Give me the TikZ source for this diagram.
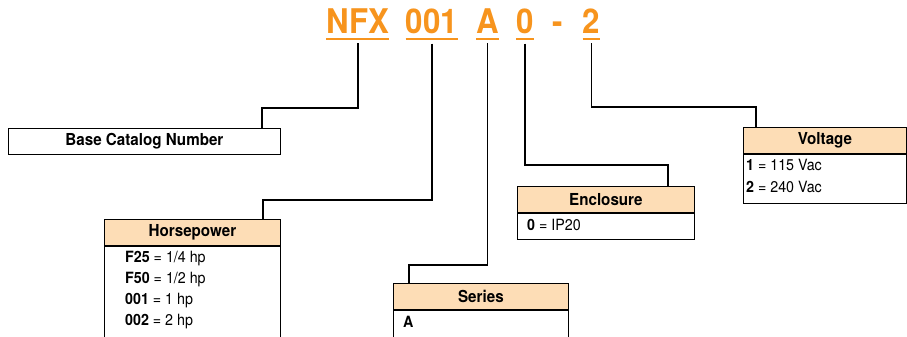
\documentclass[tikz,border=0pt]{standalone}
\usepackage{fontspec}
\setmainfont{TeX Gyre Heros}[FakeStretch=0.92]
\definecolor{org}{HTML}{F7941D}
\definecolor{peach}{HTML}{FDDDB6}
\begin{document}
\begin{tikzpicture}[x=1pt,y=-1pt,
  ttl/.style={font=\fontsize{34}{34}\selectfont\bfseries, text=org, inner sep=0pt, anchor=base},
  uline/.style={draw=org, line width=2.2pt},
  conn/.style={line width=1.6pt},
  hdr/.style={draw, line width=0.8pt, fill=peach, inner sep=0pt, anchor=north west, minimum height=26pt, font=\fontsize{16.5}{16.5}\selectfont\bfseries},
  bodybox/.style={draw, line width=0.8pt, inner sep=0pt, anchor=north west},
  row/.style={anchor=west, inner sep=0pt, font=\fontsize{15.5}{15.5}\selectfont}
]
\clip (0,0) rectangle (907,337);
\fill[white] (0,0) rectangle (907,337);

% title
\node[ttl] (t1) at (357.7,34) {NFX};
\node[ttl] (t2) at (432,34) {001};
\node[ttl] (t3) at (487.5,34) {A};
\node[ttl] (t4) at (525,34) {0};
\node[ttl] (t5m) at (558,34) {-};
\node[ttl] (t5) at (591.5,34) {2};
\foreach \t in {t1,t2,t3,t4,t5}
  \draw[uline] ([yshift=-5pt]\t.base west) -- ([yshift=-5pt]\t.base east);

% Base catalog number
\node[hdr, fill=white, minimum width=272pt] (bc) at (8,128) {Base Catalog Number};

% Horsepower
\node[hdr, minimum width=176pt] (hp) at (104,219) {Horsepower};
\node[bodybox, minimum width=176pt, minimum height=110pt] (hpb) at (hp.south west) {};
\node[row] (hp1) at (125,259) {\textbf{F25} = 1/4 hp};
\node[row] (hp2) at (125,280) {\textbf{F50} = 1/2 hp};
\node[row] (hp3) at (125,301) {\textbf{001} = 1 hp};
\node[row] (hp4) at (125,322) {\textbf{002} = 2 hp};

% Series
\node[hdr, minimum width=175pt] (se) at (393,283) {Series};
\node[bodybox, minimum width=175pt, minimum height=60pt] (seb) at (se.south west) {};
\node[row] (se1) at (403,322) {\textbf{A}};

% Enclosure
\node[hdr, minimum width=177pt] (en) at (517,186) {Enclosure};
\node[bodybox, minimum width=177pt, minimum height=26pt] (enb) at (en.south west) {};
\node[row] (en1) at (527,225) {\textbf{0} = IP20};

% Voltage
\node[hdr, minimum width=163pt] (vo) at (743,127) {Voltage};
\node[bodybox, minimum width=163pt, minimum height=49pt] (vob) at (vo.south west) {};
\node[row] (vo1) at (746,165) {\textbf{1} = 115 Vac};
\node[row] (vo2) at (746,187) {\textbf{2} = 240 Vac};

% connectors
\coordinate (k1) at (262,108);
\coordinate (k2) at (263,200);
\coordinate (k3) at (409,265);
\coordinate (k4) at (668,165);
\coordinate (k5) at (756,107);
\draw[conn] ([yshift=-9pt]t1.south) |- (k1) -- (k1 |- bc.north);
\draw[conn] ([yshift=-9pt]t2.south) |- (k2) -- (k2 |- hp.north);
\draw[conn] ([yshift=-9pt]t3.south) |- (k3) -- (k3 |- se.north);
\draw[conn] ([yshift=-9pt]t4.south) |- (k4) -- (k4 |- en.north);
\draw[conn] ([yshift=-9pt]t5.south) |- (k5) -- (k5 |- vo.north);
\end{tikzpicture}
\end{document}
